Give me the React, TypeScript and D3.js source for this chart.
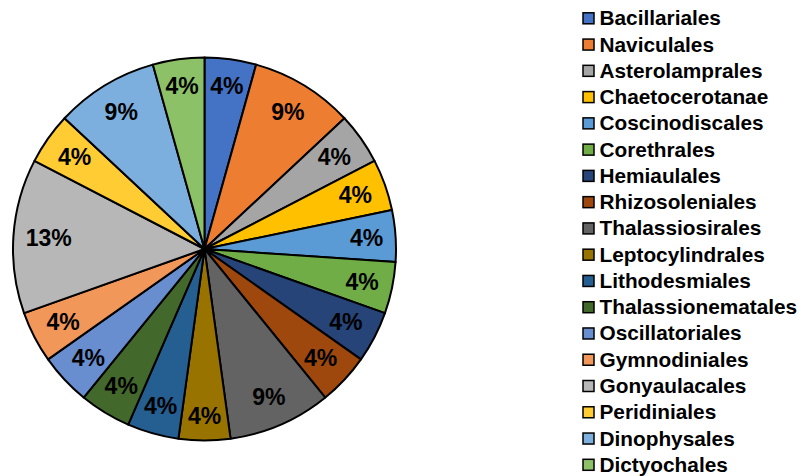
import React from "react";
import * as d3 from "d3";

const categories = [
  "Bacillariales", "Naviculales", "Asterolamprales", "Chaetocerotanae", "Coscinodiscales",
  "Corethrales", "Hemiaulales", "Rhizosoleniales", "Thalassiosirales", "Leptocylindrales",
  "Lithodesmiales", "Thalassionematales", "Oscillatoriales", "Gymnodiniales", "Gonyaulacales",
  "Peridiniales", "Dinophysales", "Dictyochales",
];
const values = [1, 2, 1, 1, 1, 1, 1, 1, 2, 1, 1, 1, 1, 1, 3, 1, 2, 1];
const colors = [
  "#4472C4", "#ED7D31", "#A5A5A5", "#FFC000", "#5B9BD5", "#70AD47",
  "#264478", "#9E480E", "#636363", "#997300", "#255E91", "#43682B",
  "#698ED0", "#F1975A", "#B7B7B7", "#FFCD33", "#7CAFDD", "#8CC168",
];

const W = 805, H = 476;
const cx = 204.5, cy = 249, R = 191.5;
const labelOuter = 180; // inside-end box limit
const labelFont = 23;
const font = "'Liberation Sans', Arial, sans-serif";

function textWidth(s: string, size: number) {
  let w = 0;
  for (const ch of s) w += ch === "%" ? 0.889 : 0.556;
  return w * size;
}

export default function App() {
  const total = d3.sum(values);
  const pie = d3.pie<number>().value((d) => d).sort(null);
  const arcs = pie(values);
  const arcGen = d3.arc<d3.PieArcDatum<number>>().innerRadius(0).outerRadius(R);
  const fmt = d3.format(".0%");
  const legendY = d3.scaleLinear().domain([0, categories.length - 1]).range([17.5, 464]);

  return (
    <svg width={W} height={H} style={{ position: "absolute", left: 0, top: 0 }}>
      <rect width={W} height={H} fill="#fff" />
      <g transform={`translate(${cx},${cy})`}>
        {arcs.map((a, i) => (
          <path key={i} d={arcGen(a) || ""} fill={colors[i]} stroke="#000" strokeWidth={2} strokeLinejoin="round" />
        ))}
        {arcs.map((a, i) => {
          const label = fmt(values[i] / total);
          const mid = (a.startAngle + a.endAngle) / 2;
          const sx = Math.sin(mid), sy = -Math.cos(mid);
          const w = textWidth(label, labelFont), h = 26;
          const r = labelOuter - (Math.abs(sx) * w / 2 + Math.abs(sy) * h / 2);
          return (
            <text key={"l" + i} x={r * sx} y={r * sy} textAnchor="middle" dominantBaseline="central"
              fontFamily={font} fontWeight="bold" fontSize={labelFont} fill="#000">
              {label}
            </text>
          );
        })}
      </g>
      <g>
        {categories.map((c, i) => (
          <g key={c} transform={`translate(0,${legendY(i)})`}>
            <rect x={583} y={-4.7} width={11} height={11} fill={colors[i]} stroke="#000" strokeWidth={1.5} />
            <text x={599.5} y={0.3} dominantBaseline="central" fontFamily={font} fontWeight="bold" fontSize={20.8} fill="#000">
              {c}
            </text>
          </g>
        ))}
      </g>
    </svg>
  );
}
